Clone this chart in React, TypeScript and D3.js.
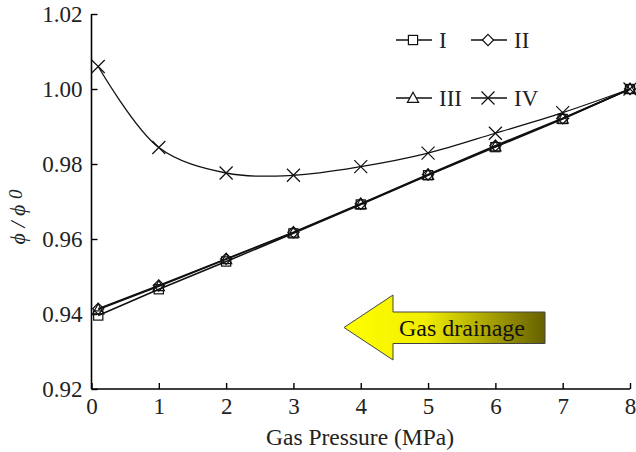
import React, { useEffect, useRef } from 'react';
import * as d3 from 'd3';

const pressures = [0.1, 1, 2, 3, 4, 5, 6, 7, 8];
const seriesI = [0.9396, 0.9466, 0.954, 0.9615, 0.9692, 0.977, 0.9845, 0.992, 1.0];
const seriesII = [0.9414, 0.9476, 0.9547, 0.9618, 0.9694, 0.9772, 0.9849, 0.9922, 1.0];
const seriesIII = [0.9412, 0.9474, 0.9546, 0.9617, 0.9693, 0.9771, 0.9847, 0.9921, 1.0];
const seriesIV = [1.006, 0.9844, 0.9776, 0.977, 0.9793, 0.9829, 0.9882, 0.9937, 1.0];
const seriesNames = ['I', 'II', 'III', 'IV'];
const xTicks = [0, 1, 2, 3, 4, 5, 6, 7, 8];
const yTicks = [0.92, 0.94, 0.96, 0.98, 1.0, 1.02];

const FONT = '"Liberation Serif", "Times New Roman", serif';

const App = () => {
    const svgRef = useRef<SVGSVGElement>(null);

    useEffect(() => {
        const width = 636;
        const height = 452;
        const svg = d3.select(svgRef.current);
        svg.selectAll('*').remove();
        svg.attr('width', width).attr('height', height);

        const x = d3.scaleLinear().domain([0, 8]).range([91.5, 630]);
        const y = d3.scaleLinear().domain([0.92, 1.02]).range([389, 14]);

        // gradient for the arrow
        const defs = svg.append('defs');
        const grad = defs.append('linearGradient')
            .attr('id', 'arrowGrad')
            .attr('x1', '0%').attr('x2', '100%')
            .attr('y1', '0%').attr('y2', '0%');
        grad.append('stop').attr('offset', '0%').attr('stop-color', '#ffff00');
        grad.append('stop').attr('offset', '40%').attr('stop-color', '#f2ee00');
        grad.append('stop').attr('offset', '100%').attr('stop-color', '#666000');

        // axes
        const xAxis = d3.axisBottom(x)
            .tickValues(xTicks)
            .tickSize(-6)
            .tickPadding(9)
            .tickFormat(d3.format('d'));
        const yAxis = d3.axisLeft(y)
            .tickValues(yTicks)
            .tickSize(-6)
            .tickPadding(9)
            .tickFormat(d3.format('.2f'));

        const gx = svg.append('g').attr('transform', `translate(0,${y(0.92)})`).call(xAxis);
        const gy = svg.append('g').attr('transform', `translate(${x(0)},0)`).call(yAxis);
        [gx, gy].forEach(g => {
            g.attr('font-family', null);
            g.select('.domain').attr('stroke', '#000').attr('stroke-width', 1.6);
            g.selectAll('.tick line').attr('stroke', '#000').attr('stroke-width', 1.4);
            g.selectAll('.tick text')
                .attr('fill', '#222')
                .style('font-family', FONT)
                .style('font-size', '23px');
        });
        gx.select('.domain').attr('d', `M${x(0)},0H${x(8)}`);
        gy.select('.domain').attr('d', `M0,${y(0.92)}V${y(1.02)}`);

        // axis titles
        svg.append('text')
            .attr('x', 360)
            .attr('y', 445)
            .attr('text-anchor', 'middle')
            .style('font-family', FONT)
            .style('font-size', '23.5px')
            .attr('fill', '#222')
            .text('Gas Pressure (MPa)');

        const yt = svg.append('text')
            .attr('transform', 'translate(25,217) rotate(-90)')
            .attr('text-anchor', 'middle')
            .style('font-family', FONT)
            .style('font-size', '22px')
            .style('font-style', 'italic')
            .attr('fill', '#222');
        yt.append('tspan').text('ϕ / ϕ ');
        yt.append('tspan').attr('dy', -3).style('font-size', '19px').text('0');

        // data
        const allSeries = [seriesI, seriesII, seriesIII, seriesIV];
        const curves = [d3.curveLinear, d3.curveLinear, d3.curveLinear, d3.curveCatmullRom];

        allSeries.forEach((vals, i) => {
            const line = d3.line<number>()
                .x((_, j) => x(pressures[j]))
                .y(d => y(d))
                .curve(curves[i]);
            svg.append('path')
                .datum(vals)
                .attr('d', line)
                .attr('fill', 'none')
                .attr('stroke', '#111')
                .attr('stroke-width', i === 3 ? 1.3 : 1.5);
        });

        const drawMarker = (g: any, kind: number, cx: number, cy: number) => {
            const m = g.append('g').attr('transform', `translate(${cx},${cy})`);
            const st = { stroke: '#111', 'stroke-width': 1.2, fill: 'none' };
            let el: any;
            if (kind === 0) {
                el = m.append('rect').attr('x', -4.6).attr('y', -4.6).attr('width', 9.2).attr('height', 9.2);
            } else if (kind === 1) {
                el = m.append('path').attr('d', 'M0,-5.6L5.6,0L0,5.6L-5.6,0Z');
            } else if (kind === 2) {
                el = m.append('path').attr('d', 'M0,-5.8L5.6,4.4L-5.6,4.4Z');
            } else {
                el = m.append('path').attr('d', 'M-6.5,-6.5L6.5,6.5M-6.5,6.5L6.5,-6.5');
            }
            Object.entries(st).forEach(([k, v]) => el.attr(k, v));
            return el;
        };

        allSeries.forEach((vals, i) => {
            const g = svg.append('g');
            vals.forEach((v, j) => drawMarker(g, i, x(pressures[j]), y(v)));
        });

        // legend
        const legendPos = [
            { lx: 396, ly: 40 },
            { lx: 471, ly: 40 },
            { lx: 396, ly: 98 },
            { lx: 471, ly: 98 },
        ];
        seriesNames.forEach((name, i) => {
            const { lx, ly } = legendPos[i];
            const g = svg.append('g');
            g.append('line')
                .attr('x1', lx).attr('x2', lx + 36)
                .attr('y1', ly).attr('y2', ly)
                .attr('stroke', '#111').attr('stroke-width', 1.3);
            drawMarker(g, i, lx + 17, ly).attr('fill', i < 3 ? '#fff' : 'none');
            g.append('text')
                .attr('x', lx + 43)
                .attr('y', ly + 8)
                .style('font-family', FONT)
                .style('font-size', '23px')
                .attr('fill', '#222')
                .text(name);
        });

        // gas drainage arrow
        const tipX = 344, midY = 327.5, headX = 393, headTop = 295, headBot = 360;
        const bodyTop = 312, bodyBot = 343.5, rightX = 545;
        svg.append('path')
            .attr('d', `M${tipX},${midY}L${headX},${headTop}L${headX},${bodyTop}L${rightX},${bodyTop}L${rightX},${bodyBot}L${headX},${bodyBot}L${headX},${headBot}Z`)
            .attr('fill', 'url(#arrowGrad)')
            .attr('stroke', '#444')
            .attr('stroke-width', 1);
        svg.append('text')
            .attr('x', 462)
            .attr('y', 336)
            .attr('text-anchor', 'middle')
            .style('font-family', FONT)
            .style('font-size', '24px')
            .attr('fill', '#111')
            .text('Gas drainage');
    }, []);

    return (
        <svg
            ref={svgRef}
            style={{ position: 'absolute', left: 0, top: 0, background: '#fff' }}
        />
    );
};

export default App;
